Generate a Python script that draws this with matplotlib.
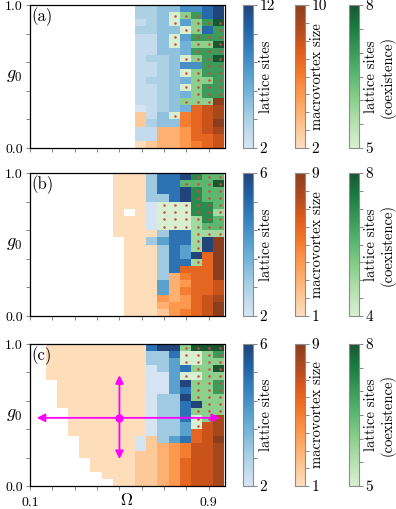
import numpy as np
import matplotlib
matplotlib.use('Agg')
import matplotlib.pyplot as plt
from matplotlib.colors import ListedColormap, Normalize
from matplotlib.cm import ScalarMappable

plt.rcParams['font.family'] = 'cmr10'
plt.rcParams['mathtext.fontset'] = 'cm'
plt.rcParams['axes.formatter.use_mathtext'] = True
plt.rcParams['font.size'] = 10

# grid: Omega columns, g0 rows (cell centres)
omega = np.round(np.arange(0.10, 0.951, 0.05), 2)
g0 = np.round(np.arange(0.025, 1.0, 0.05), 3)

# cell codes, top row first; b = lattice sites, o = macrovortex size,
# g = lattice sites (coexistence), . = nothing. Missing leading cells are empty.
grid_a = [
    "b4 b4 b5 b5 b8 b8 b10 b12",
    "b4 b4 b5 g5 g6 g7 b10 b12",
    "b3 b4 b5 g5 b7 g6 g7 g8",
    "b4 b4 b5 b5 g5 g6 b10 g7",
    "b3 b3 b5 g5 b7 g7 g7 g7",
    "b3 b3 b5 g5 b6 g6 g6 g8",
    "b3 b3 b5 b5 b6 g7 g7 g7",
    "b3 b4 b4 b5 g5 g6 g7 g8",
    "b3 b3 b4 b5 b8 b8 g7 g7",
    "b3 b3 b4 b5 g5 g6 g7 g7",
    "b3 b4 b4 b5 b6 g6 g6 g7",
    "b3 b3 b4 b5 g5 g6 g7 g7",
    "b3 b3 b4 b5 b6 g6 g7 g7",
    "b3 b3 b4 b5 g6 g6 g6 o10",
    "b2 b3 b4 b5 b6 o7 o8 o9",
    "o3 b3 b5 g5 o6 o7 o8 o9",
    "o3 b4 b5 b5 o6 o7 o8 o10",
    "b3 b3 o4 o4 o5 o7 o8 o9",
    "b3 b3 o4 o4 o5 o7 o7 o8",
    "o2 o3 o4 o4 o5 o6 o7 o8",
]
grid_b = [
    "o1 o1 o1 b3 b5 b5 b6 g7 g6 g6",
    "o1 o1 o1 b3 b5 b5 g6 g6 g6 g8",
    "o1 o1 o1 b3 b5 b5 b6 g7 g6 g6",
    "o1 o1 o1 b3 b3 b5 b6 g7 g6 g6",
    "o1 o1 o1 b2 g4 g4 g4 g7 g7 g6",
    "o1 . o1 b2 g4 g4 g4 g7 g7 g5",
    "o1 o1 o1 b2 g4 g4 g4 g5 g7 g6",
    "o1 o1 o1 b2 g4 g4 g4 g5 g6 g6",
    "o1 o1 o1 o1 b3 b5 b5 g5 g5 g5",
    ". o1 o1 b3 b4 b5 b5 g5 b6 o9",
    ". o1 o1 o1 b3 b5 b4 g5 b6 o9",
    ". o1 o1 o1 b3 b5 b4 b6 o6 o9",
    ". o1 o1 o1 b3 b5 b5 g5 o6 o9",
    ". o1 o1 o1 b3 b5 o6 o6 o6 o9",
    ". o1 o1 o1 b3 o3 o5 o6 o6 o9",
    ". o1 o1 o1 b4 o3 o4 o6 o6 o7",
    ". o1 o1 o1 b4 o3 o5 o6 o6 o7",
    ". o1 o1 o1 o4 o3 o4 o6 o7 o8",
    ". o1 o1 o1 o3 o4 o4 o6 o7 o9",
    ". o1 o1 o1 o2 o4 o5 o6 o7 o9",
]
grid_c = [
    ". . o1 o1 o1 o1 o1 o1 o1 o1 o1 b5 b6 b6 g6 g8 g8 g8",
    ". . o1 o1 o1 o1 o1 o1 o1 o1 o1 b3 b3 b5 g5 g5 g6 g7",
    ". . o1 o1 o1 o1 o1 o1 o1 o1 o1 b3 b3 b4 g5 g5 g6 g6",
    ". . o1 o1 o1 o1 o1 o1 o1 o1 o1 b2 b3 b4 b5 g6 g6 g8",
    ". . o1 o1 o1 o1 o1 o1 o1 o1 o1 b2 b2 b4 g5 g5 g6 g6",
    ". . . o1 o1 o1 o1 o1 o1 o1 o1 b2 b2 b4 b6 g6 g6 g7",
    ". . . o1 o1 o1 o1 o1 o1 o1 o1 b2 b2 b4 b5 g6 g6 g7",
    ". . . o1 o1 o1 o1 o1 o1 o1 o1 b2 b3 b3 b6 g6 g6 g6",
    ". . . o1 o1 o1 o1 o1 o1 o1 o1 b2 b3 b3 b5 b6 g6 g6",
    ". . . . o1 o1 o1 o1 o1 o1 o1 b2 b3 b3 b5 g6 g6 g6",
    ". . . . o1 o1 o1 o1 o1 o1 o1 b2 b3 b3 b5 g5 g6 o8",
    ". . . . o1 o1 o1 o1 o1 o1 o1 b2 b3 b3 b4 g5 o7 o8",
    ". . . . o1 o1 o1 o1 o1 o1 o1 b2 b3 b3 b4 o6 o7 o8",
    ". . . . . o1 o1 o1 o1 o1 b2 o2 b3 b4 b5 o6 o7 o9",
    ". . . . . o1 o1 o1 o1 o1 b2 o2 o3 o4 o5 o7 o7 o8",
    ". . . . . o1 o1 o1 o1 o1 o2 o2 o3 o4 o5 o7 o7 o8",
    ". . . . . . o1 o1 o1 o1 o2 o2 o3 o4 o6 o7 o7 o8",
    ". . . . . . o1 o1 o1 o1 o2 o2 o3 o4 o6 o7 o7 o8",
    ". . . . . . . o1 o1 o1 o2 o2 o3 o4 o6 o7 o7 o8",
    ". . . . . . . . o1 o1 o2 o2 o3 o4 o6 o7 o7 o8",
]

# colorbar ranges (lattice, macrovortex, coexistence) per panel
ranges_a = [(2, 12), (2, 10), (5, 8)]
ranges_b = [(2, 6), (1, 9), (4, 8)]
ranges_c = [(2, 6), (1, 9), (5, 8)]
cb_labels = ['lattice sites', 'macrovortex size', 'lattice sites\n(coexistence)']


def parse(rows):
    vals = [np.full((len(g0), len(omega)), np.nan) for _ in range(3)]
    for i, row in enumerate(rows[::-1]):
        toks = row.split()
        toks = ['.'] * (len(omega) - len(toks)) + toks
        for j, t in enumerate(toks):
            if t != '.':
                vals['bog'.index(t[0])][i, j] = float(t[1:])
    return vals


def faded(name, lo=0.2, hi=1.0, alpha=0.9):
    c = plt.get_cmap(name)(np.linspace(lo, hi, 256))
    c[:, :3] = c[:, :3] * alpha + (1 - alpha)
    return ListedColormap(c)


cmaps = [faded('Blues'), faded('Oranges'), faded('Greens')]

W, H = 396, 509
fig = plt.figure(figsize=(W / 100, H / 100), dpi=100)


def box(l, t, r, b):
    return fig.add_axes([l / W, 1 - b / H, (r - l) / W, (b - t) / H])


x_edges = np.append(omega - 0.03, omega[-1] + 0.02)
y_edges = np.append(g0 - 0.025, 1.0)

panels = [(grid_a, ranges_a, '(a)', 5, 148),
          (grid_b, ranges_b, '(b)', 173, 316),
          (grid_c, ranges_c, '(c)', 344, 486)]
cb_x = [(243.3, 252.7), (295, 304.7), (349.3, 358.7)]
lab_x = [266, 317, 380]

for k, (rows, rng, tag, top, bot) in enumerate(panels):
    ax = box(30, top, 224.5, bot)
    vals = parse(rows)
    for v, cm, (lo, hi) in zip(vals, cmaps, rng):
        ax.pcolormesh(x_edges, y_edges, np.ma.masked_invalid(v), cmap=cm,
                      norm=Normalize(lo, hi), shading='flat')
    yy, xx = np.nonzero(~np.isnan(vals[2]))
    ax.plot(omega[xx], g0[yy], 'o', color='#d4453a', ms=1.8, mew=0)
    ax.set_xlim(0.1, 0.97)
    ax.set_ylim(0, 1)
    ax.set_xticks(np.round(np.arange(0.1, 0.91, 0.1), 1))
    ax.set_yticks(np.round(np.arange(0, 1.01, 0.2), 1))
    ax.set_yticklabels(['0.0', '', '', '', '', '1.0'])
    if k == 2:
        ax.set_xticklabels(['0.1'] + [''] * 7 + ['0.9'])
        fig.text(127 / W, 1 - 500 / H, r'$\Omega$', fontsize=12, ha='center', va='center')
    else:
        ax.set_xticklabels([])
    ax.tick_params(length=3, width=0.6, color='0.45', labelsize=10, pad=2)
    ax.tick_params(axis='x', pad=5)
    ax.set_ylabel(r'$g_0$', rotation=0, fontsize=13, va='center')
    ax.yaxis.set_label_coords(-0.08, 0.5)
    ax.text(0.008, 0.985, tag, transform=ax.transAxes, ha='left', va='top', fontsize=12)
    for s in ax.spines.values():
        s.set_linewidth(0.9)

    if k == 2:
        arrow = dict(arrowstyle='<|-|>', color='magenta', lw=1.3,
                     mutation_scale=12, shrinkA=0, shrinkB=0)
        ax.annotate('', xy=(0.13, 0.48), xytext=(0.95, 0.48), arrowprops=arrow)
        ax.annotate('', xy=(0.5, 0.19), xytext=(0.5, 0.78), arrowprops=arrow)
        ax.plot([0.5], [0.48], 'o', color='magenta', ms=5)

    for j, ((l, r), (lo, hi), cm) in enumerate(zip(cb_x, rng, cmaps)):
        cax = box(l, top, r, bot)
        cb = fig.colorbar(ScalarMappable(norm=Normalize(lo, hi), cmap=cm), cax=cax)
        n = {0: 5, 1: hi - lo, 2: int(round((hi - lo) * 2))}[j]
        cb.set_ticks(np.linspace(lo, hi, n + 1))
        cb.set_ticklabels([str(lo)] + [''] * (n - 1) + [str(hi)])
        cb.outline.set_edgecolor('0.55')
        cb.outline.set_linewidth(0.8)
        cax.tick_params(length=3, width=0.6, color='0.45', labelsize=11, pad=2)
        fig.text(lab_x[j] / W, 1 - (top + bot) / 2 / H, cb_labels[j], rotation=90,
                 ha='center', va='center', multialignment='center', fontsize=10.5)

fig.savefig('out.png', dpi=100)
